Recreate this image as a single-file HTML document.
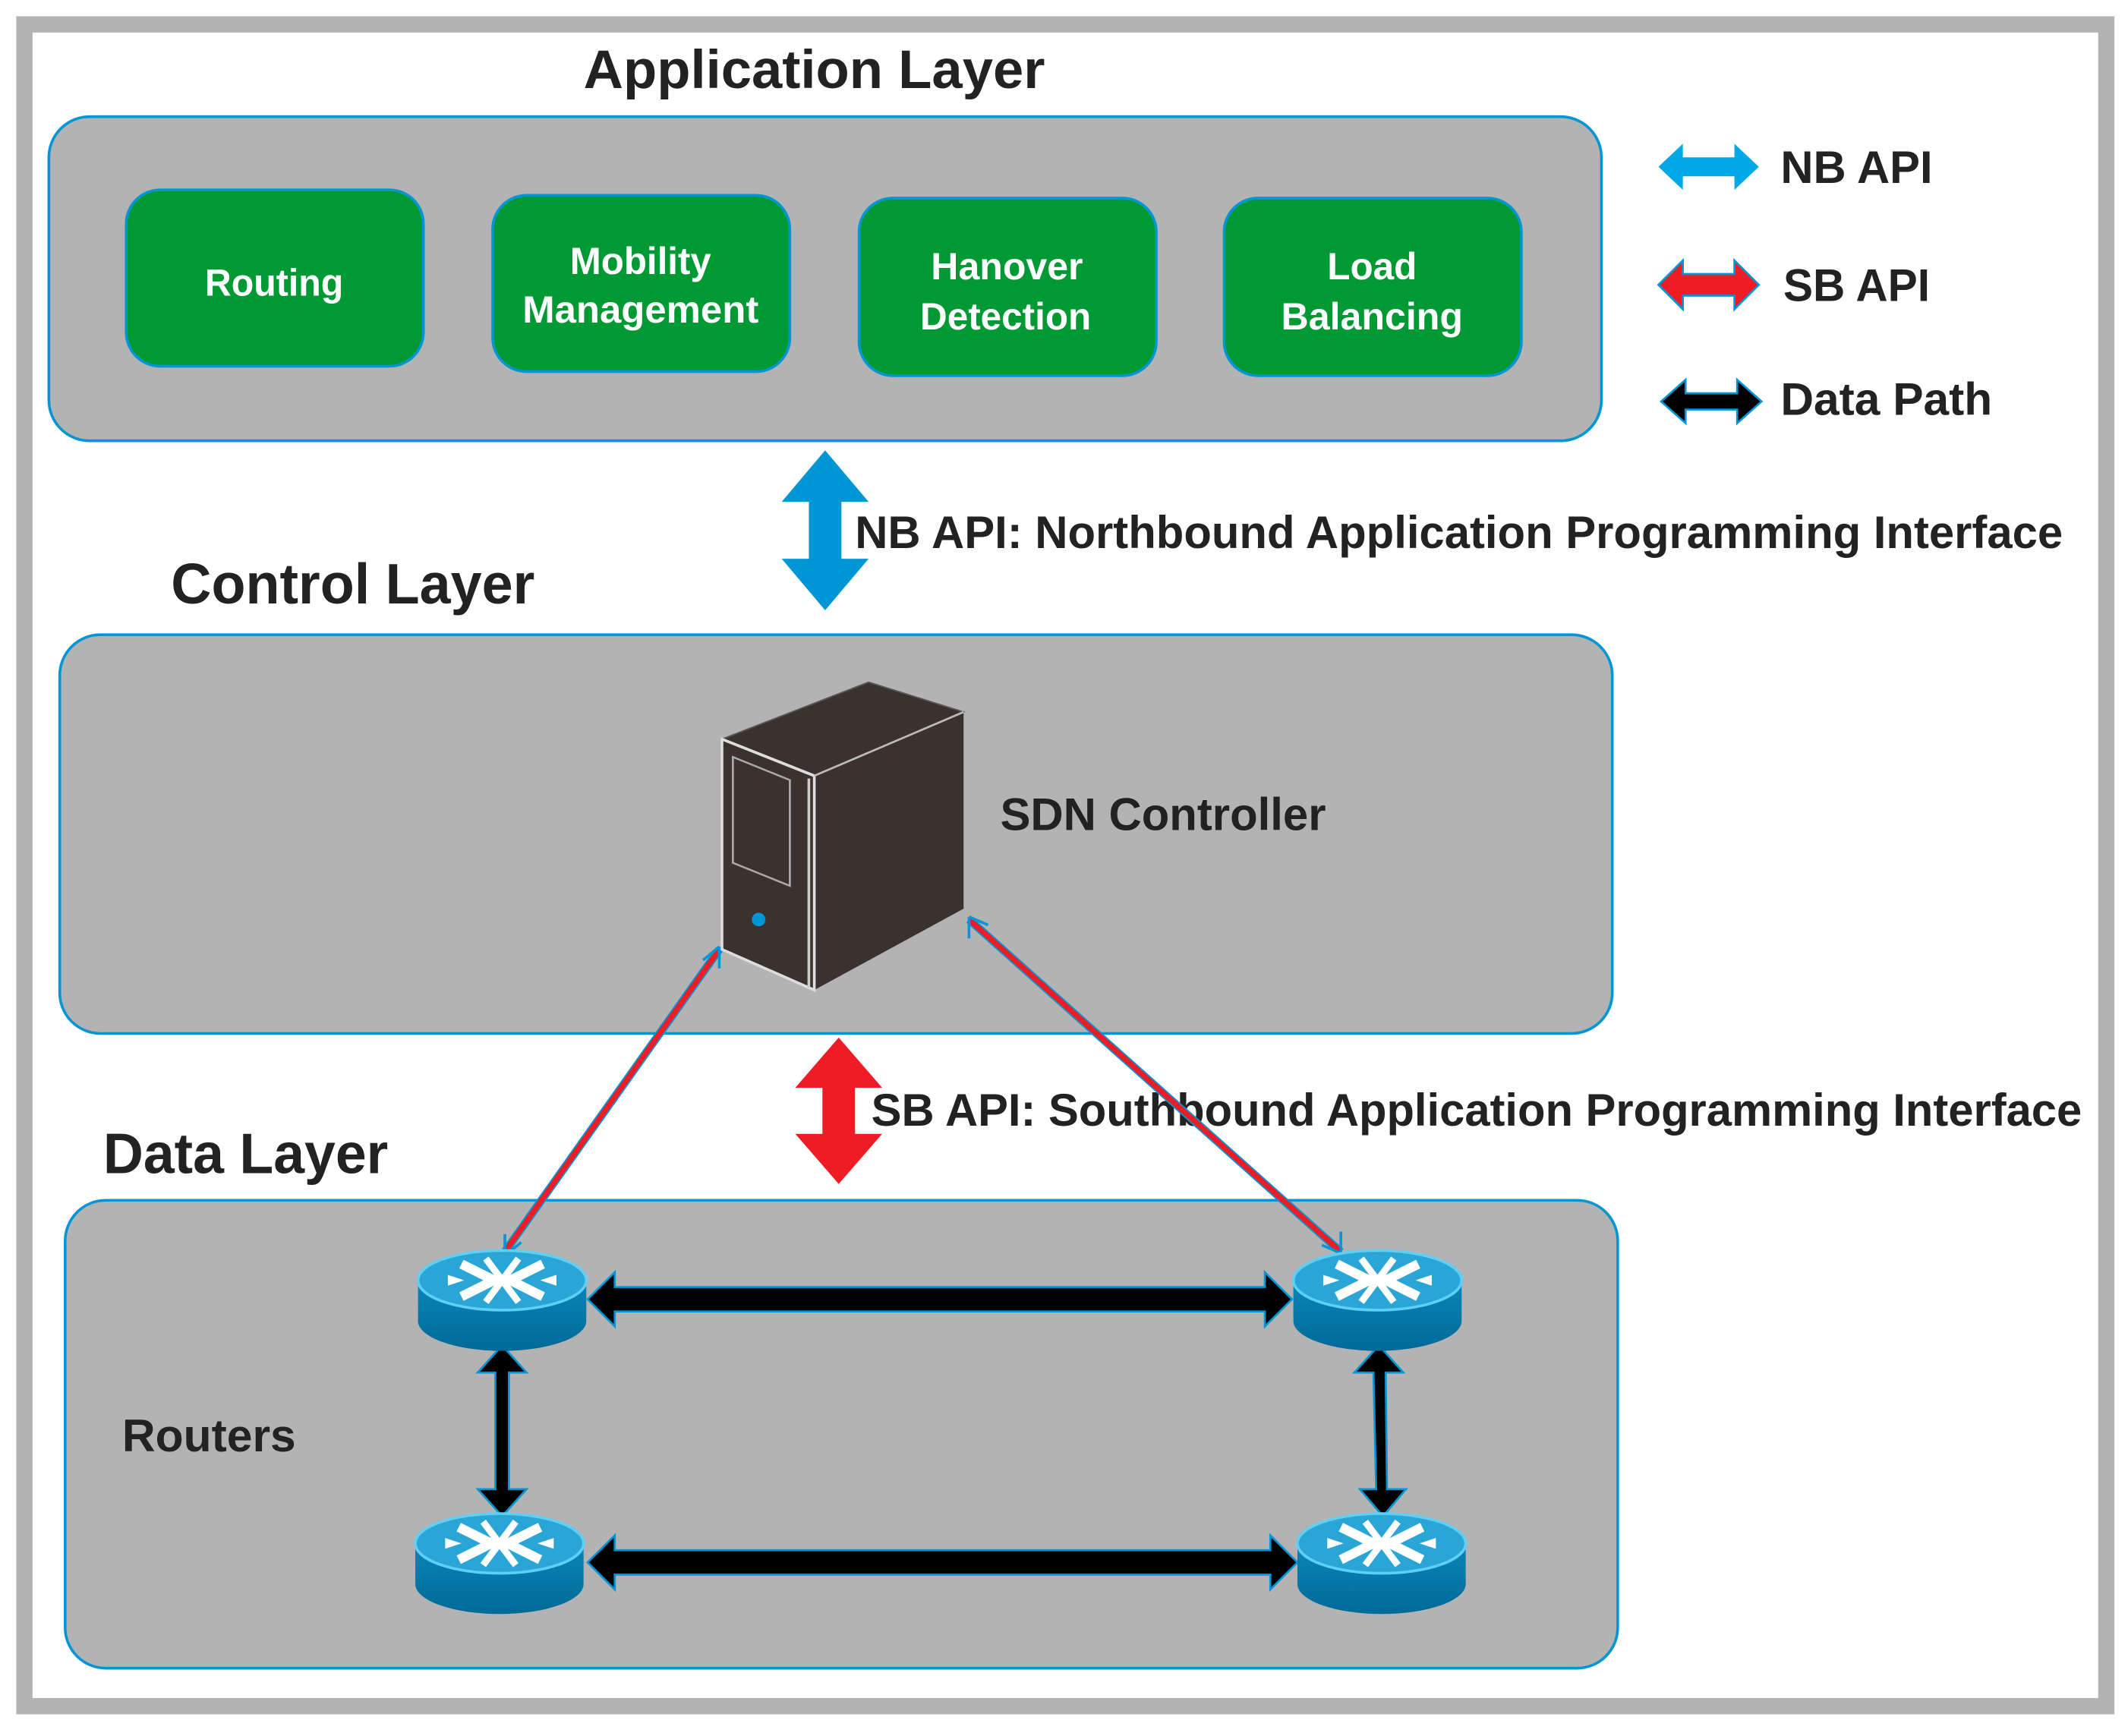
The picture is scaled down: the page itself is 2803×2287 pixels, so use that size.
<!DOCTYPE html>
<html><head><meta charset="utf-8"><style>
html,body{margin:0;padding:0;background:#fff;}
svg{display:block;}
text{font-family:"Liberation Sans Narrow","Liberation Sans",sans-serif;font-weight:bold;}
</style></head><body>
<svg width="2803" height="2287" viewBox="0 0 1568 1280" preserveAspectRatio="none" xmlns="http://www.w3.org/2000/svg">
<defs>
<linearGradient id="rt" x1="0" y1="0" x2="0" y2="1"><stop offset="0" stop-color="#0a86b8"/><stop offset="1" stop-color="#006a98"/></linearGradient>
<g id="router">
<path d="M-62,0 L-62,30 A62,22 0 0 0 62,30 L62,0 Z" fill="url(#rt)"/>
<ellipse cx="0" cy="0" rx="62" ry="22" fill="#2aa6d6" stroke="#5fd0f5" stroke-width="2"/>
<path d="M-30,-12 L-6,0 L-30,12 M30,-12 L6,0 L30,12" stroke="#fff" stroke-width="7" fill="none"/>
<path d="M-12,-16 L12,16 M12,-16 L-12,16" stroke="#fff" stroke-width="5"/>
<path d="M-40,-4 L-28,0 L-40,4 Z M40,-4 L28,0 L40,4Z" fill="#fff"/>
</g>
</defs>
<rect x="0" y="0" width="1568" height="1280" fill="#fff"/>
<rect x="18" y="18" width="1534" height="1240" fill="#fff" stroke="#b3b3b3" stroke-width="12"/>

<text x="600" y="65" font-size="40" text-anchor="middle" fill="#222" textLength="340" lengthAdjust="spacingAndGlyphs">Application Layer</text>
<rect x="36" y="86" width="1144" height="239" rx="30" fill="#b3b3b3" stroke="#0096d6" stroke-width="2"/>
<g fill="#009933" stroke="#0096d6" stroke-width="2">
<rect x="93" y="140" width="219" height="130" rx="25"/>
<rect x="363" y="144" width="219" height="130" rx="25"/>
<rect x="633" y="146" width="219" height="131" rx="25"/>
<rect x="902" y="146" width="219" height="131" rx="25"/>
</g>
<g fill="#fff" font-size="28" text-anchor="middle" font-weight="normal">
<text x="202" y="218" textLength="102" lengthAdjust="spacingAndGlyphs">Routing</text>
<text x="472" y="202" textLength="104" lengthAdjust="spacingAndGlyphs">Mobility</text>
<text x="472" y="238" textLength="174" lengthAdjust="spacingAndGlyphs">Management</text>
<text x="742" y="206" textLength="112" lengthAdjust="spacingAndGlyphs">Hanover</text>
<text x="741" y="243" textLength="126" lengthAdjust="spacingAndGlyphs">Detection</text>
<text x="1011" y="206" textLength="66" lengthAdjust="spacingAndGlyphs">Load</text>
<text x="1011" y="243" textLength="134" lengthAdjust="spacingAndGlyphs">Balancing</text>
</g>

<path d="M1222,123 L1240,106 L1240,116 L1278,116 L1278,106 L1296,123 L1278,140 L1278,130 L1240,130 L1240,140 Z" fill="#00a8e6"/>
<path d="M1222,210 L1240,192 L1240,202 L1278,202 L1278,192 L1296,210 L1278,228 L1278,218 L1240,218 L1240,228 Z" fill="#ee1c25" stroke="#0096d6" stroke-width="1.5"/>
<path d="M1224,296 L1242,280 L1242,290 L1280,290 L1280,280 L1298,296 L1280,312 L1280,302 L1242,302 L1242,312 Z" fill="#000" stroke="#0096d6" stroke-width="1.5"/>
<g fill="#222" font-size="34">
<text x="1312" y="135" textLength="112" lengthAdjust="spacingAndGlyphs">NB API</text>
<text x="1314" y="222" textLength="108" lengthAdjust="spacingAndGlyphs">SB API</text>
<text x="1312" y="306" textLength="156" lengthAdjust="spacingAndGlyphs">Data Path</text>
</g>

<path d="M608,332 L640,370 L620,370 L620,412 L640,412 L608,450 L576,412 L596,412 L596,370 L576,370 Z" fill="#0096d6"/>
<text x="630" y="404" font-size="34" fill="#222" textLength="890" lengthAdjust="spacingAndGlyphs">NB API: Northbound Application Programming Interface</text>

<text x="126" y="445" font-size="42" fill="#222" textLength="268" lengthAdjust="spacingAndGlyphs">Control Layer</text>
<rect x="44" y="468" width="1144" height="294" rx="30" fill="#b3b3b3" stroke="#0096d6" stroke-width="2"/>

<polygon points="532,545 640,503 710,525 600,572" fill="#3b3230" stroke="#555" stroke-width="1"/>
<polygon points="600,572 710,525 710,670 600,730" fill="#3b3230"/>
<polygon points="532,545 600,572 600,730 532,700" fill="#3b3230" stroke="#ddd" stroke-width="2"/>
<line x1="596" y1="574" x2="596" y2="728" stroke="#ccc" stroke-width="2"/>
<line x1="532" y1="545" x2="600" y2="572" stroke="#ddd" stroke-width="2"/>
<line x1="600" y1="572" x2="710" y2="525" stroke="#bbb" stroke-width="1.5"/>
<rect x="540" y="560" width="42" height="78" fill="none" stroke="#aaa" stroke-width="1.5" transform="skewY(22) translate(0,-220)"/>
<circle cx="559" cy="678" r="5" fill="#0096d6"/>
<text x="737" y="612" font-size="34" fill="#222" textLength="240" lengthAdjust="spacingAndGlyphs">SDN Controller</text>

<path d="M618,765 L650,802 L630,802 L630,836 L650,836 L618,873 L586,836 L606,836 L606,802 L586,802 Z" fill="#ee1c25"/>
<text x="642" y="830" font-size="34" fill="#222" textLength="892" lengthAdjust="spacingAndGlyphs">SB API: Southbound Application Programming Interface</text>

<text x="76" y="865" font-size="42" fill="#222" textLength="210" lengthAdjust="spacingAndGlyphs">Data Layer</text>
<rect x="48" y="885" width="1144" height="345" rx="30" fill="#b3b3b3" stroke="#0096d6" stroke-width="2"/>

<text x="90" y="1070" font-size="34" fill="#222" font-weight="normal" textLength="128" lengthAdjust="spacingAndGlyphs">Routers</text>

<g fill="#000" stroke="#0096d6" stroke-width="1.5">
<path d="M433,958 L453,938 L453,949 L932,949 L932,938 L952,958 L932,978 L932,967 L453,967 L453,978 Z"/>
<path d="M433,1152 L453,1132 L453,1143 L936,1143 L936,1132 L956,1152 L936,1172 L936,1161 L453,1161 L453,1172 Z"/>
<path d="M370,992 L388,1012 L375,1012 L375,1098 L388,1098 L370,1118 L352,1098 L365,1098 L365,1012 L352,1012 Z"/>
<path d="M1016,992 L1034,1012 L1021,1012 L1022,1098 L1036,1098 L1019,1118 L1002,1098 L1014,1098 L1012,1012 L998,1012 Z"/>
</g>

<g stroke="#0096d6" stroke-width="6" fill="none">
<line x1="372" y1="923" x2="530" y2="700"/>
<line x1="988" y1="923" x2="714" y2="678"/>
</g>
<g stroke="#ee1c25" stroke-width="4" fill="none">
<line x1="372" y1="923" x2="530" y2="700"/>
<line x1="988" y1="923" x2="714" y2="678"/>
</g>
<path d="M372,926 L372,910 M372,926 L384,916 M530,698 L530,714 M530,698 L518,708 M714,676 L714,692 M714,676 L728,682 M988,924 L988,908 M988,924 L974,918" stroke="#0096d6" stroke-width="2"/>

<use href="#router" x="370" y="944"/>
<use href="#router" x="1015" y="944"/>
<use href="#router" x="368" y="1138"/>
<use href="#router" x="1018" y="1138"/>
</svg>
</body></html>
